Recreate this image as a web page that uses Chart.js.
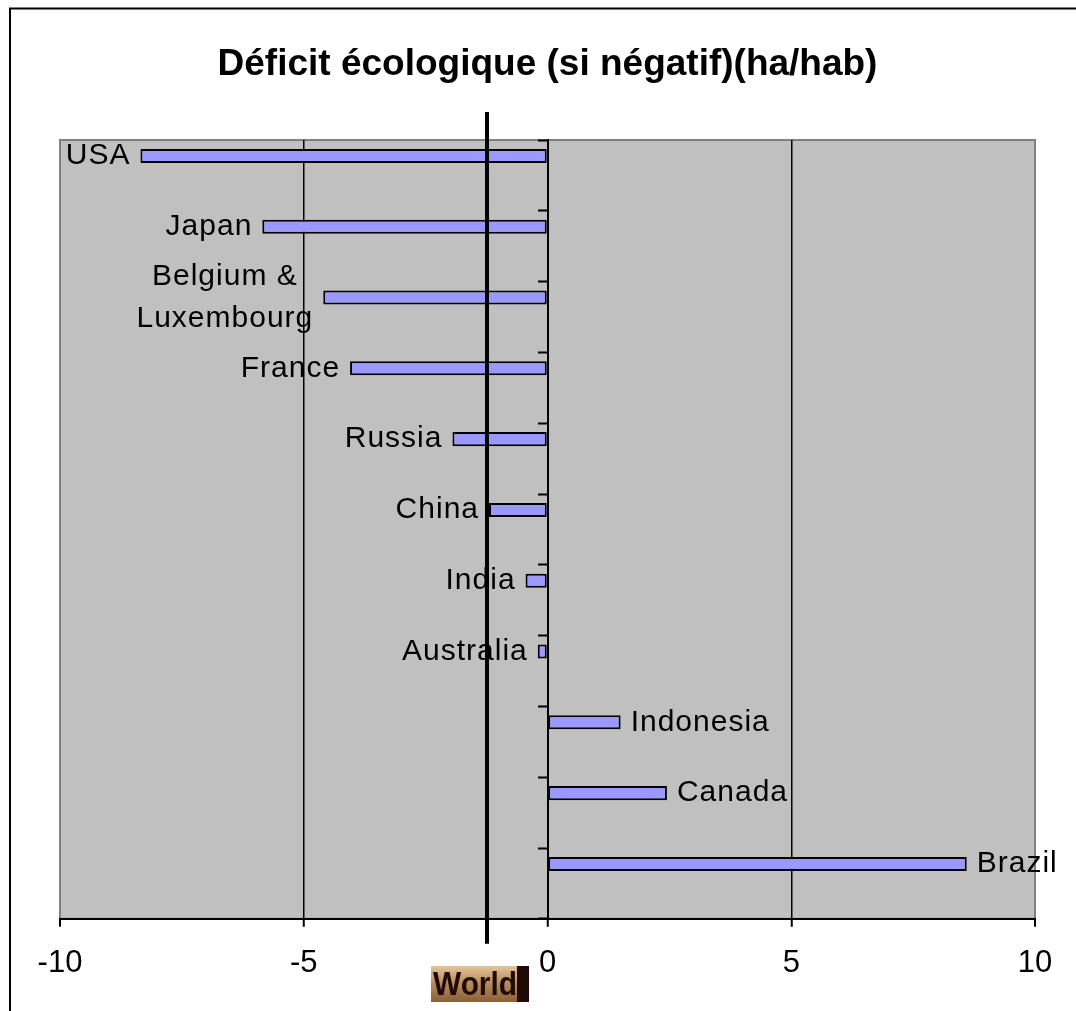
<!DOCTYPE html>
<html>
<head>
<meta charset="utf-8">
<script src="https://cdn.jsdelivr.net/npm/chart.js@4.4.1/dist/chart.umd.min.js"></script>
<style>
  html, body { margin: 0; padding: 0; background: #fff; }
  #wrap { width: 1076px; height: 1011px; }
</style>
</head>
<body>
<div id="wrap"><canvas id="deficitChart" width="1076" height="1011"></canvas></div>
<script>
// ecological deficit per country, ha per inhabitant (negative = deficit)
const countries = ['USA', 'Japan', ['Belgium &', 'Luxembourg'], 'France', 'Russia', 'China',
    'India', 'Australia', 'Indonesia', 'Canada', 'Brazil'];
const deficit = [-8.35, -5.85, -4.6, -4.05, -1.95, -1.2, -0.45, -0.2, 1.5, 2.45, 8.6];
const emptySeries = countries.map(() => null);
const worldDeficit = -1.25;
const xMin = -10, xMax = 10, xStep = 5;

const FONT = "'Liberation Sans', Arial, sans-serif";

// grey plot area with a thin frame, plus the outer chart border
const plotBackground = {
    id: 'plotBackground',
    beforeDraw(chart) {
        const { ctx, chartArea: a } = chart;
        ctx.save();
        ctx.strokeStyle = '#000';
        ctx.lineWidth = 2;
        ctx.beginPath();
        ctx.moveTo(10, 1011);
        ctx.lineTo(10, 8.5);
        ctx.lineTo(1076, 8.5);
        ctx.stroke();
        ctx.fillStyle = '#c0c0c0';
        ctx.fillRect(a.left, a.top, a.right - a.left, a.bottom - a.top);
        ctx.strokeStyle = '#808080';
        ctx.lineWidth = 2;
        ctx.strokeRect(a.left, a.top, a.right - a.left, a.bottom - a.top);
        ctx.restore();
    }
};

// vertical marker for the world average and its tag under the axis
const worldLine = {
    id: 'worldLine',
    afterDatasetsDraw(chart) {
        const { ctx, chartArea: a } = chart;
        const x = Math.round(chart.scales.x.getPixelForValue(worldDeficit));
        ctx.save();
        ctx.strokeStyle = '#000';
        ctx.lineWidth = 4;
        ctx.beginPath();
        ctx.moveTo(x, a.top - 28);
        ctx.lineTo(x, a.bottom + 25);
        ctx.stroke();

        const bx = x - 56, by = 966, bw = 98, bh = 36;
        const g = ctx.createLinearGradient(0, by, 0, by + bh);
        g.addColorStop(0, '#e3c49a');
        g.addColorStop(0.5, '#b58a5c');
        g.addColorStop(1, '#8a5f38');
        ctx.fillStyle = g;
        ctx.fillRect(bx, by, bw, bh);
        ctx.fillStyle = '#1f0b03';
        ctx.fillRect(bx + 86, by, bw - 86, bh);
        ctx.font = 'bold 34px ' + FONT;
        ctx.textBaseline = 'middle';
        ctx.fillStyle = '#1f0b03';
        ctx.fillText('World', bx + 2, by + bh / 2 + 2, 84);
        ctx.restore();
    }
};

// country names beside the end of each bar
const barLabels = {
    id: 'barLabels',
    afterDatasetsDraw(chart) {
        const { ctx } = chart;
        const meta = chart.getDatasetMeta(0);
        ctx.save();
        ctx.font = '30px ' + FONT;
        ctx.letterSpacing = '1px';
        ctx.fillStyle = '#000';
        ctx.textBaseline = 'middle';
        ctx.textAlign = 'center';
        meta.data.forEach((bar, i) => {
            const lines = [].concat(countries[i]);
            const neg = deficit[i] < 0;
            const lh = 42;
            const widest = Math.max(...lines.map(l => ctx.measureText(l).width));
            const edge = neg ? bar.x - 10 : bar.x + 10;
            const cx = neg ? edge - widest / 2 : edge + widest / 2;
            lines.forEach((l, k) => {
                const y = bar.y + (k - (lines.length - 1) / 2) * lh;
                ctx.fillText(l, cx, y);
            });
        });
        ctx.restore();
    }
};

const chart = new Chart(document.getElementById('deficitChart'), {
    type: 'bar',
    data: {
        labels: countries,
        datasets: [{
            data: deficit,
            backgroundColor: '#9999ff',
            borderColor: '#000',
            borderWidth: 2,
            borderSkipped: false,
            categoryPercentage: 1.1,
            barPercentage: 0.36
        }, {
            data: emptySeries,
            categoryPercentage: 1.1,
            barPercentage: 0.36
        }]
    },
    options: {
        indexAxis: 'y',
        responsive: false,
        animation: false,
        layout: { padding: { left: 60, right: 41, top: 0, bottom: 11 } },
        plugins: {
            legend: { display: false },
            tooltip: { enabled: false },
            title: {
                display: true,
                text: 'Déficit écologique (si négatif)(ha/hab)',
                color: '#000',
                font: { family: FONT, size: 37, weight: 'bold' },
                padding: { top: 43, bottom: 52.6 }
            }
        },
        scales: {
            x: {
                min: xMin,
                max: xMax,
                ticks: {
                    stepSize: xStep,
                    color: '#000',
                    padding: 18,
                    font: { family: FONT, size: 31 }
                },
                grid: {
                    color: ctx => Math.abs(ctx.tick.value) === xMax ? '#808080' : '#000',
                    lineWidth: ctx => Math.abs(ctx.tick.value) === xMax ? 2 : 1.5,
                    tickColor: '#000',
                    tickWidth: 2,
                    tickLength: 8
                },
                border: { color: '#000', width: 2 }
            },
            y: {
                position: { x: 0 },
                ticks: { display: false },
                grid: {
                    drawOnChartArea: false,
                    tickColor: '#000',
                    tickWidth: 2,
                    tickLength: 9
                },
                border: { color: '#000', width: 2 }
            }
        }
    },
    plugins: [plotBackground, worldLine, barLabels]
});
</script>
</body>
</html>
